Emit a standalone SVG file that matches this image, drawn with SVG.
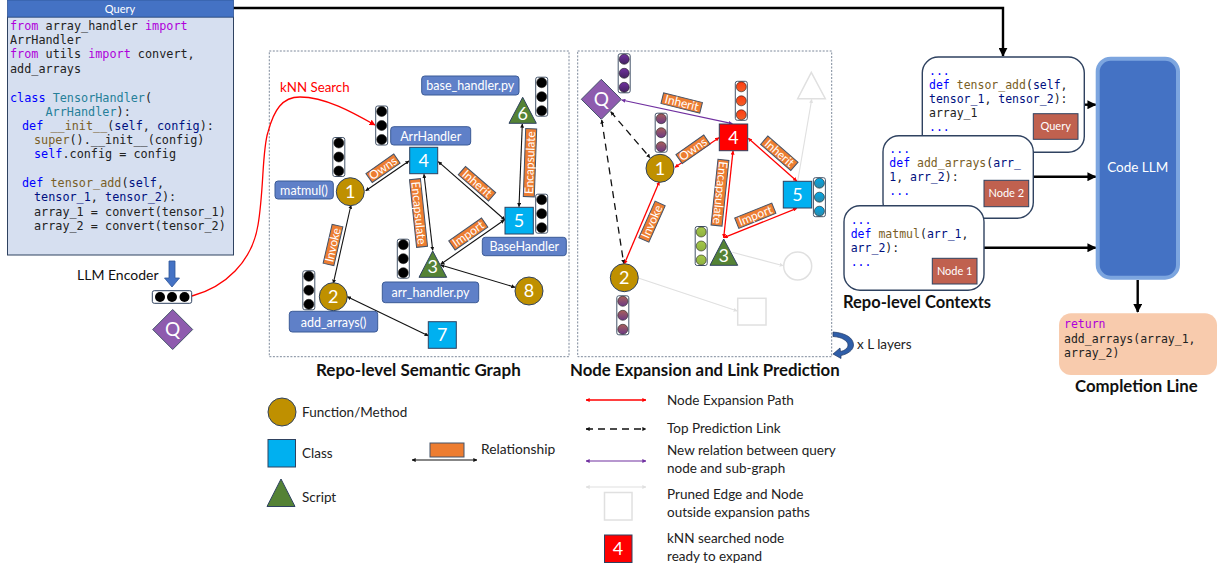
<svg xmlns="http://www.w3.org/2000/svg" width="1220" height="570" viewBox="0 0 1220 570">
<style>
text{font-family:Lato,"Open Sans",sans-serif;fill:#111}
.code{font-family:"DejaVu Sans Mono","Liberation Mono",monospace;font-size:11.8px;fill:#222}
.ctx{font-size:11.5px}
.k{fill:#AF00DB}.b{fill:#0000FF}.f{fill:#795E26}.p{fill:#001080}.c{fill:#267F99}
.num{font-size:18px;fill:#fff;text-anchor:middle}
.fn{fill:#BF9000;stroke:#2F4260;stroke-width:1}
.cl{fill:#00B0F0;stroke:#2F4260;stroke-width:1}
.sc{fill:#548235;stroke:#2F4260;stroke-width:1}
.pr{fill:#fff;stroke:#E0E0E0;stroke-width:1.5}
.lab{fill:#5F80C8;stroke:#3B5A96;stroke-width:1}
.labt{font-size:12.5px;fill:#fff;text-anchor:middle}
.rel{fill:#ED7D31;stroke:#44546A;stroke-width:1}
.relt{font-size:12px;fill:#fff;text-anchor:middle}
.panel{fill:#fff;stroke:#5A6A80;stroke-width:.8;stroke-dasharray:2 1.5}
.card{fill:#fff;stroke:#2F4260;stroke-width:1.4}
.badge{fill:#C0614F;stroke:#2F4260;stroke-width:1}
.badget{font-size:11px;fill:#fff;text-anchor:middle}
.h{font-weight:700;font-size:16.8px;fill:#111}
.lg{font-size:13.5px;fill:#222}
.e{fill:none;stroke:#111;stroke-width:1.1;marker-start:url(#mk);marker-end:url(#mk)}
.r{fill:none;stroke:#F00;stroke-width:1.3;marker-start:url(#mr);marker-end:url(#mr)}
.u{fill:none;stroke:#7030A0;stroke-width:1.2;marker-start:url(#mu);marker-end:url(#mu)}
.g{fill:none;stroke:#E0E0E0;stroke-width:1.1;marker-end:url(#mg)}
.d{fill:none;stroke:#111;stroke-width:1.3;stroke-dasharray:7 5;marker-start:url(#mk);marker-end:url(#mk)}
.t{fill:none;stroke:#000;stroke-width:2.4;marker-end:url(#mt)}
</style>
<defs>
<marker id="mk" viewBox="0 0 6 6" refX="5.5" refY="3" markerWidth="4" markerHeight="4" markerUnits="userSpaceOnUse" orient="auto-start-reverse"><path d="M0 0L6 3L0 6z" fill="#111"/></marker>
<marker id="mr" viewBox="0 0 6 6" refX="5.5" refY="3" markerWidth="4" markerHeight="4" markerUnits="userSpaceOnUse" orient="auto-start-reverse"><path d="M0 0L6 3L0 6z" fill="#F00"/></marker>
<marker id="mu" viewBox="0 0 6 6" refX="5.5" refY="3" markerWidth="4" markerHeight="4" markerUnits="userSpaceOnUse" orient="auto-start-reverse"><path d="M0 0L6 3L0 6z" fill="#7030A0"/></marker>
<marker id="mg" viewBox="0 0 6 6" refX="5.5" refY="3" markerWidth="4" markerHeight="4" markerUnits="userSpaceOnUse" orient="auto-start-reverse"><path d="M0 0L6 3L0 6z" fill="#E0E0E0"/></marker>
<marker id="mt" viewBox="0 0 6 6" refX="5.5" refY="3" markerWidth="9" markerHeight="9" markerUnits="userSpaceOnUse" orient="auto"><path d="M0 0L6 3L0 6z" fill="#000"/></marker>
<marker id="ms" viewBox="0 0 6 6" refX="5.5" refY="3" markerWidth="6" markerHeight="6" markerUnits="userSpaceOnUse" orient="auto"><path d="M0 0L6 3L0 6z" fill="#F00"/></marker>
<linearGradient id="gp" x1="0" y1="0" x2="0" y2="1"><stop offset="0" stop-color="#7030A0"/><stop offset="1" stop-color="#43235f"/></linearGradient>
<linearGradient id="gm" x1="0" y1="0" x2="0" y2="1"><stop offset="0" stop-color="#A85F5A"/><stop offset="1" stop-color="#6B3A86"/></linearGradient>
<linearGradient id="go" x1="0" y1="0" x2="0" y2="1"><stop offset="0" stop-color="#FF3B10"/><stop offset="1" stop-color="#F0602A"/></linearGradient>
<linearGradient id="gb" x1="0" y1="0" x2="0" y2="1"><stop offset="0" stop-color="#00A8E8"/><stop offset="1" stop-color="#2F88A8"/></linearGradient>
<linearGradient id="gg" x1="0" y1="0" x2="0" y2="1"><stop offset="0" stop-color="#A5C84A"/><stop offset="1" stop-color="#8DB040"/></linearGradient>
<g id="vec"><rect x="-6" y="-19.5" width="12" height="39" rx="2" fill="#fff" stroke="#44546A" stroke-width="1"/><circle cy="-14" r="5" stroke="#222" stroke-width=".6"/><circle r="5" stroke="#222" stroke-width=".6"/><circle cy="14" r="5" stroke="#222" stroke-width=".6"/></g>
</defs>
<rect id="bg" width="1220" height="570" fill="#fff"/>
<g id="panels">
<rect class="panel" x="269.3" y="51" width="299.7" height="305.7"/>
<rect class="panel" x="577.7" y="51" width="254" height="305.7"/>
</g>
<g id="connectors">
<path class="t" d="M233 8H1003V56"/>
<path fill="none" stroke="#F00" stroke-width="1.3" marker-end="url(#ms)" d="M192 296C225 287 252 262 258 225C264 190 262 150 268 132C274 110 282 97 300 97C325 97 352 112 375 125"/>
<path class="e" d="M365.7 190.7L409 161"/>
<path class="e" d="M351 205L333.3 283.3"/>
<path class="e" d="M424 174.3L432.7 250.3"/>
<path class="e" d="M438.3 161.7L505 220"/>
<path class="e" d="M504.3 220L440.7 264.3"/>
<path class="e" d="M519 206.7L522.3 124"/>
<path class="e" d="M440.7 265L515 287.3"/>
<path class="e" d="M347.3 296.7L428.3 335.7"/>
<path class="g" d="M797.7 181L811.7 99.3"/>
<path class="g" d="M732.3 252.3L783.3 265.7"/>
<path class="g" d="M639 278.3L737.3 311"/>
<path class="r" d="M675 167.3L719 137.7"/>
<path class="r" d="M659.3 181.7L624.3 264"/>
<path class="r" d="M733 151L723.7 237.7"/>
<path class="r" d="M748.3 138.3L796.7 181"/>
<path class="r" d="M796.7 208.3L724 237.7"/>
<path class="u" d="M621.7 100L732.3 123.7"/>
<path class="d" d="M610.7 111.7L650 157.7"/>
<path class="d" d="M601.7 120L623.7 263.3"/>
<path class="t" d="M1084.3 104.7H1095.7"/>
<path class="t" d="M1033.3 176.7H1095.7"/>
<path class="t" d="M984 247.7H1095.7"/>
<path class="t" d="M1137.7 280V312"/>
<path d="M169 261H175V278H179.500L172 287L164.500 278H169z" fill="#4472C4" stroke="#2F5597" stroke-width=".8"/>
<path d="M833 332C846 333 853.500 338 853.500 345C853.500 350 848 354 841 355.500L841 358.500L833 354L840 348L840.500 351.500C845 350.500 848 348 848 345C848 341 842 337 833 336.500z" fill="#2F5EA8" stroke="#1F3864" stroke-width=".7"/>
</g>
<g id="query">
<rect x="7.500" y="17" width="226" height="238" fill="#D6DFF0" stroke="#2F4260" stroke-width="1"/>
<rect x="7.500" y="0" width="226" height="17" fill="#4472C4" stroke="#2F5597" stroke-width=".8"/>
<text x="120" y="12.500" font-size="11" text-anchor="middle" style="fill:#fff">Query</text>
<text class="code" x="10" y="30"><tspan class="k">from</tspan> array_handler <tspan class="k">import</tspan></text>
<text class="code" x="10" y="44">ArrHandler</text>
<text class="code" x="10" y="58"><tspan class="k">from</tspan> utils <tspan class="k">import</tspan> convert,</text>
<text class="code" x="10" y="73">add_arrays</text>
<text class="code" x="10" y="101.500"><tspan class="b">class</tspan> <tspan class="c">TensorHandler</tspan>(</text>
<text class="code" x="45.500" y="116"><tspan class="c">ArrHandler</tspan>):</text>
<text class="code" x="22" y="130"><tspan class="b">def</tspan> <tspan class="f">__init__</tspan>(<tspan class="p">self</tspan>, <tspan class="p">config</tspan>):</text>
<text class="code" x="34" y="144"><tspan class="f">super</tspan>().__init__(config)</text>
<text class="code" x="34" y="158"><tspan class="b">self</tspan>.config = config</text>
<text class="code" x="22" y="187"><tspan class="b">def</tspan> <tspan class="f">tensor_add</tspan>(<tspan class="p">self</tspan>,</text>
<text class="code" x="34" y="201"><tspan class="p">tensor_1</tspan>, <tspan class="p">tensor_2</tspan>):</text>
<text class="code" x="34" y="216">array_1 = convert(tensor_1)</text>
<text class="code" x="34" y="230">array_2 = convert(tensor_2)</text>
</g>
<g id="encoder">
<text x="77" y="279.500" font-size="14">LLM Encoder</text>
<rect x="152.300" y="290.700" width="39.400" height="12.600" rx="2" fill="#fff" stroke="#2F4260"/>
<circle cx="160" cy="297" r="5"/><circle cx="172" cy="297" r="5"/><circle cx="184.500" cy="297" r="5"/>
</g>
<g id="query-node"><path d="M172.700 309.500L192.700 329.500L172.700 349.500L152.700 329.500z" fill="#8E5BAE" stroke="#44546A"/><text class="num" x="172.700" y="336" style="font-size:19px">Q</text></g>
<text x="280" y="92" font-size="13.300" style="fill:#F00">kNN Search</text>

<g id="g1-vectors">
<use href="#vec" x="381.700" y="125.500" fill="#000"/>
<use href="#vec" x="338.800" y="157" fill="#000"/>
<use href="#vec" x="308.800" y="290.300" fill="#000"/>
<use href="#vec" x="403.300" y="258.700" fill="#000"/>
<use href="#vec" x="541.700" y="96.700" fill="#000"/>
<use href="#vec" x="541.700" y="213.700" fill="#000"/>
</g>
<g id="g1-n1"><circle class="fn" cx="350.300" cy="191.700" r="14"/><text class="num" x="350.300" y="198">1</text></g>
<g id="g1-n2"><circle class="fn" cx="333.300" cy="296.700" r="14"/><text class="num" x="333.300" y="303">2</text></g>
<g id="g1-n3"><path class="sc" d="M432.700 251L446.700 277.300H419z"/><text class="num" x="432.700" y="273">3</text></g>
<g id="g1-n4"><rect class="cl" x="409.700" y="147.300" width="28" height="26.400"/><text class="num" x="423.700" y="167">4</text></g>
<g id="g1-n5"><rect class="cl" x="505" y="207.300" width="28.300" height="26.700"/><text class="num" x="519" y="227">5</text></g>
<g id="g1-n6"><path class="sc" d="M522.700 97.300L536.300 123.300H509z"/><text class="num" x="522.700" y="120">6</text></g>
<g id="g1-n7"><rect class="cl" x="428.300" y="321.700" width="28" height="26.600"/><text class="num" x="442.300" y="341">7</text></g>
<g id="g1-n8"><circle class="fn" cx="529" cy="291" r="14"/><text class="num" x="529" y="297.300">8</text></g>
<g id="g1-labels">
<rect class="lab" x="421.700" y="76" width="97.300" height="19" rx="3"/><text class="labt" x="470.300" y="90">base_handler.py</text>
<rect class="lab" x="390.700" y="126.700" width="80" height="18.300" rx="3"/><text class="labt" x="430.700" y="140.500">ArrHandler</text>
<rect class="lab" x="275" y="181" width="58.300" height="18" rx="3"/><text class="labt" x="304" y="194.700">matmul()</text>
<rect class="lab" x="482.300" y="237.300" width="84" height="18.400" rx="3"/><text class="labt" x="524.300" y="251">BaseHandler</text>
<rect class="lab" x="382.300" y="282" width="96.400" height="20.700" rx="3"/><text class="labt" x="430.500" y="297">arr_handler.py</text>
<rect class="lab" x="289.300" y="311.300" width="88.400" height="20.700" rx="3"/><text class="labt" x="333.500" y="326.500">add_arrays()</text>
</g>
<g id="g1-rels">
<g transform="translate(383 168.300) rotate(-35)"><rect class="rel" x="-17" y="-5.500" width="34" height="11"/><text class="relt" y="4">Owns</text></g>
<g transform="translate(333 245) rotate(-77)"><rect class="rel" x="-20" y="-5.500" width="40" height="11"/><text class="relt" y="4">Invoke</text></g>
<g transform="translate(418.500 213) rotate(84)"><rect class="rel" x="-34" y="-5.500" width="68" height="11"/><text class="relt" y="4">Encapsulate</text></g>
<g transform="translate(477 183.700) rotate(41)"><rect class="rel" x="-20" y="-5.500" width="40" height="11"/><text class="relt" y="4">Inherit</text></g>
<g transform="translate(468.300 234) rotate(-35)"><rect class="rel" x="-20" y="-5.500" width="40" height="11"/><text class="relt" y="4">Import</text></g>
<g transform="translate(530 162.700) rotate(-88)"><rect class="rel" x="-34" y="-5.500" width="68" height="11"/><text class="relt" y="4">Encapsulate</text></g>
</g>

<g id="g2-pruned">
<path class="pr" d="M811.300 72.300L825.300 98.700H797.700z"/>
<circle class="pr" cx="797.700" cy="266" r="14"/>
<rect class="pr" x="737.700" y="298.300" width="28.300" height="26.700"/>
</g>
<g id="g2-vectors">
<use href="#vec" x="624.200" y="73.300" fill="url(#gp)"/>
<use href="#vec" x="661.200" y="132.700" fill="url(#gm)"/>
<use href="#vec" x="622.800" y="315.300" fill="url(#gm)"/>
<use href="#vec" x="741.300" y="100.800" fill="url(#go)"/>
<use href="#vec" x="819.400" y="197.200" fill="url(#gb)"/>
<use href="#vec" x="701.200" y="246" fill="url(#gg)"/>
</g>
<g id="g2-q"><path d="M601.300 79.300L621.300 99.300L601.300 119.300L581.300 99.300z" fill="#8E5BAE" stroke="#44546A"/><text class="num" x="601.300" y="106" style="font-size:19px">Q</text></g>
<g id="g2-n1"><circle class="fn" cx="660" cy="168.300" r="14"/><text class="num" x="660" y="174.600">1</text></g>
<g id="g2-n2"><circle class="fn" cx="624.300" cy="277.700" r="14"/><text class="num" x="624.300" y="284">2</text></g>
<g id="g2-n3"><path class="sc" d="M723.700 239L737.700 265.300H710z"/><text class="num" x="723.700" y="262">3</text></g>
<g id="g2-n4"><rect x="719.300" y="124" width="28.400" height="26.700" fill="#F00" stroke="#2F4260"/><text class="num" x="733.500" y="143.700">4</text></g>
<g id="g2-n5"><rect class="cl" x="783.300" y="181.300" width="28.400" height="26.700"/><text class="num" x="797.500" y="201">5</text></g>
<g id="g2-rels">
<g transform="translate(681.700 103) rotate(14)"><rect class="rel" x="-20" y="-5.500" width="40" height="11"/><text class="relt" y="4">Inherit</text></g>
<g transform="translate(693 149.300) rotate(-35)"><rect class="rel" x="-17" y="-5.500" width="34" height="11"/><text class="relt" y="4">Owns</text></g>
<g transform="translate(652 221.700) rotate(-66)"><rect class="rel" x="-20" y="-5.500" width="40" height="11"/><text class="relt" y="4">Invoke</text></g>
<g transform="translate(720 192.700) rotate(96)"><rect class="rel" x="-33" y="-5.500" width="66" height="11"/><text class="relt" y="4">Encapsulate</text></g>
<g transform="translate(779.300 153.300) rotate(41)"><rect class="rel" x="-20" y="-5.500" width="40" height="11"/><text class="relt" y="4">Inherit</text></g>
<g transform="translate(755.300 215.700) rotate(-22)"><rect class="rel" x="-20" y="-5.500" width="40" height="11"/><text class="relt" y="4">Import</text></g>
</g>
<text x="857" y="349" font-size="13.500" class="lg">x L layers</text>

<g id="ctx-query">
<rect class="card" x="922.300" y="57" width="162" height="95.300" rx="16"/>
<text class="code ctx" x="929" y="75"><tspan class="b">...</tspan></text>
<text class="code ctx" x="929" y="89"><tspan class="b">def</tspan> <tspan class="f">tensor_add</tspan>(<tspan class="p">self</tspan>,</text>
<text class="code ctx" x="929" y="103"><tspan class="p">tensor_1</tspan>, <tspan class="p">tensor_2</tspan>):</text>
<text class="code ctx" x="929" y="117">array_1</text>
<text class="code ctx" x="929" y="131"><tspan class="b">...</tspan></text>
<rect class="badge" x="1033.300" y="113.700" width="44.700" height="25.600"/><text class="badget" x="1055.700" y="130">Query</text>
</g>
<g id="ctx-node2">
<rect class="card" x="883" y="135.700" width="150.300" height="82.600" rx="16"/>
<text class="code ctx" x="889.300" y="153"><tspan class="b">...</tspan></text>
<text class="code ctx" x="889.300" y="167"><tspan class="b">def</tspan> <tspan class="f">add_arrays</tspan>(<tspan class="p">arr_</tspan></text>
<text class="code ctx" x="889.300" y="181"><tspan class="p">1</tspan>, <tspan class="p">arr_2</tspan>):</text>
<text class="code ctx" x="889.300" y="195"><tspan class="b">...</tspan></text>
<rect class="badge" x="984" y="180.300" width="44.700" height="26.400"/><text class="badget" x="1006.300" y="197">Node 2</text>
</g>
<g id="ctx-node1">
<rect class="card" x="844" y="205.700" width="140" height="84.600" rx="16"/>
<text class="code ctx" x="850.700" y="224"><tspan class="b">...</tspan></text>
<text class="code ctx" x="850.700" y="237.700"><tspan class="b">def</tspan> <tspan class="f">matmul</tspan>(<tspan class="p">arr_1</tspan>,</text>
<text class="code ctx" x="850.700" y="251.700"><tspan class="p">arr_2</tspan>):</text>
<text class="code ctx" x="850.700" y="265.700"><tspan class="b">...</tspan></text>
<rect class="badge" x="932.300" y="258.300" width="44.700" height="25.700"/><text class="badget" x="954.700" y="275">Node 1</text>
</g>
<g id="code-llm"><rect x="1097.700" y="58.700" width="80.300" height="219" rx="13" fill="#4472C4" stroke="#7CA5DF" stroke-width="4"/><text x="1137.700" y="172" font-size="13.500" text-anchor="middle" style="fill:#fff">Code LLM</text></g>
<g id="completion">
<rect x="1059" y="313.300" width="158" height="61.700" rx="12" fill="#F8CBAD"/>
<text class="code ctx" x="1064" y="328.300"><tspan class="k">return</tspan></text>
<text class="code ctx" x="1064" y="342.700">add_arrays(array_1,</text>
<text class="code ctx" x="1064" y="356.700">array_2)</text>
</g>
<text class="h" x="843" y="307.700" style="font-size:16.500px">Repo-level Contexts</text>
<text class="h" x="1075" y="391.700">Completion Line</text>
<text class="h" x="316" y="376" style="font-size:17px">Repo-level Semantic Graph</text>
<text class="h" x="570" y="376">Node Expansion and Link Prediction</text>
<g id="legend">
<circle class="fn" cx="282" cy="412" r="14"/><text class="lg" x="302" y="417">Function/Method</text>
<rect class="cl" x="268" y="439.500" width="27.500" height="27.500"/><text class="lg" x="302" y="458">Class</text>
<path class="sc" d="M281 479L295 506.500H267z"/><text class="lg" x="302" y="502">Script</text>
<rect class="rel" x="430" y="443" width="34" height="14"/><path class="e" d="M412 460H477"/><text class="lg" x="481" y="454" style="font-size:13.800px">Relationship</text>
<path class="r" d="M586 400H646"/><text class="lg" x="667" y="405">Node Expansion Path</text>
<path class="d" d="M586 429H646"/><text class="lg" x="667" y="433">Top Prediction Link</text>
<path class="u" d="M586 461H646"/><text class="lg" x="667" y="455">New relation between query</text><text class="lg" x="667" y="473">node and sub-graph</text>
<path class="g" style="marker-start:url(#mg)" d="M586 487H646"/><rect class="pr" x="604.500" y="492.500" width="27.500" height="27.500"/><text class="lg" x="667" y="499">Pruned Edge and Node</text><text class="lg" x="667" y="517">outside expansion paths</text>
<rect x="604.500" y="535" width="27.500" height="27.500" fill="#F00" stroke="#2F4260"/><text class="num" x="618" y="555">4</text><text class="lg" x="667" y="543">kNN searched node</text><text class="lg" x="667" y="561">ready to expand</text>
</g>
</svg>
